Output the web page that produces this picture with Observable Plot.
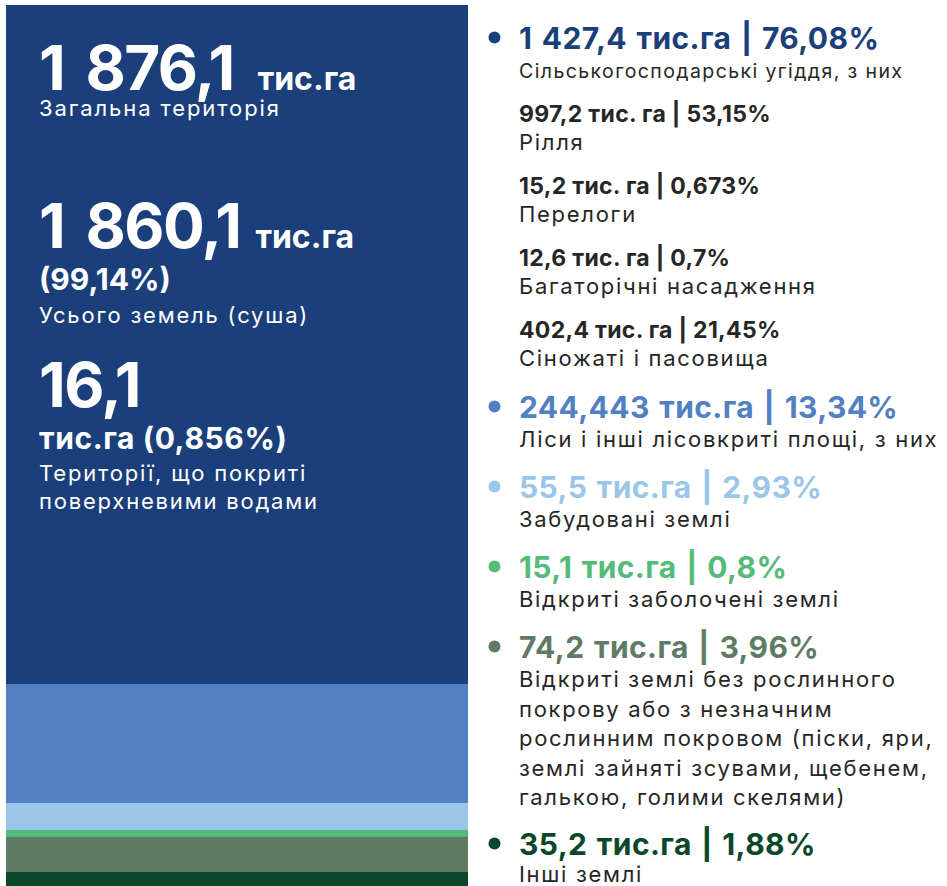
<!DOCTYPE html>
<html><head><meta charset="utf-8">
<script src="https://cdn.jsdelivr.net/npm/d3@7"></script>
<script src="https://cdn.jsdelivr.net/npm/@observablehq/plot@0.6"></script>
<style>
html,body{margin:0;padding:0;background:#fff;}
#wrap{position:relative;width:947px;height:886px;overflow:hidden;}
#wrap > svg{position:absolute;left:0;top:0;}
#overlay{position:absolute;left:0;top:0;pointer-events:none;}
#overlay text{font-family:Inter,"Open Sans",sans-serif;}
</style></head><body><div id="wrap"></div>
<script>
// ---- data ----
const categories = [
  "Сільськогосподарські угіддя, з них",
  "Ліси і інші лісовкриті площі, з них",
  "Забудовані землі",
  "Відкриті заболочені землі",
  "Відкриті землі без рослинного покрову або з незначним рослинним покровом (піски, яри, землі зайняті зсувами, щебенем, галькою, голими скелями)",
  "Інші землі"
];
const areas = [1427.4, 244.443, 55.5, 15.1, 74.2, 35.2];
const shares = [76.08, 13.34, 2.93, 0.8, 3.96, 1.88];
const colors = ["#1b3f7a", "#5180c3", "#9bc6ea", "#55bb7a", "#5e7c64", "#0b482b"];

const agriSubNames = ["Рілля", "Перелоги", "Багаторічні насадження", "Сіножаті і пасовища"];
const agriSubAreas = [997.2, 15.2, 12.6, 402.4];
const agriSubShares = [53.15, 0.673, 0.7, 21.45];

const totalArea = 1876.1;
const landArea = 1860.1, landShare = 99.14;
const waterArea = 16.1, waterShare = 0.856;

// ---- helpers ----
function fmt(v) {
  const [i, d] = String(v).split(".");
  const ig = i.replace(/\B(?=(\d{3})+(?!\d))/g, " ");
  return d ? ig + "," + d : ig;
}

const W = 947, H = 886;
const data = categories.map((c, i) => ({category: c, area: areas[i], share: shares[i]}));

const chart = Plot.plot({
  width: W, height: H,
  marginLeft: 6, marginRight: 479, marginTop: 5, marginBottom: 0,
  x: {axis: null, padding: 0},
  y: {axis: null, domain: [0, 98.66], reverse: true},
  color: {domain: categories, range: colors},
  marks: [
    Plot.barY(data, {x: () => "all", y: "share", fill: "category", order: null, clip: true, shapeRendering: "crispEdges"})
  ]
});
const wrap = document.getElementById("wrap");
wrap.appendChild(chart);

// ---- overlay texts ----
const svg = d3.select(wrap).append("svg").attr("id", "overlay").attr("width", W).attr("height", H);
function t(x, y, s, size, weight, fill, ls, ws) {
  const el = svg.append("text").attr("x", x).attr("y", y).text(s)
    .attr("font-size", size).attr("font-weight", weight).attr("fill", fill)
    .attr("letter-spacing", ls || 0).attr("word-spacing", ws || 0);
  // keep inside the page
  const maxW = W - x - 6;
  const node = el.node();
  if (node.getComputedTextLength && node.getComputedTextLength() > maxW) {
    el.attr("textLength", maxW).attr("lengthAdjust", "spacingAndGlyphs");
  }
  return el;
}
const WHITE = "#ffffff";
const BIG = 62, BIGLS = -1.5, BIGWS = 8;
// left panel
const g1 = svg.append("text").attr("x", 39).attr("y", 90).attr("fill", WHITE).attr("font-weight", 700);
g1.append("tspan").attr("font-size", BIG).attr("letter-spacing", BIGLS).attr("word-spacing", BIGWS).text(fmt(totalArea));
g1.append("tspan").attr("font-size", 32).attr("dx", 24).attr("letter-spacing", 0).text("тис.га");
t(39, 116, "Загальна територія", 22, 400, WHITE, 1.9);

const g2 = svg.append("text").attr("x", 39).attr("y", 248).attr("fill", WHITE).attr("font-weight", 700);
g2.append("tspan").attr("font-size", BIG).attr("letter-spacing", BIGLS).attr("word-spacing", BIGWS).text(fmt(landArea));
g2.append("tspan").attr("font-size", 32).attr("dx", 15).attr("letter-spacing", 0).text("тис.га");
t(39, 290, "(" + fmt(landShare) + "%)", 30, 700, WHITE, 0);
t(39, 323, "Усього земель (суша)", 22, 400, WHITE, 1.8);

t(39, 407, fmt(waterArea), BIG, 700, WHITE, BIGLS);
t(39, 449, "тис.га (" + fmt(waterShare) + "%)", 30, 700, WHITE, 0.6);
t(39, 481, "Території, що покриті", 22, 400, WHITE, 1.8);
t(39, 509, "поверхневими водами", 22, 400, WHITE, 1.8);

// right list
const headBase = [49, 418, 498, 578, 658, 855];
const descLines = [
  ["Сільськогосподарські угіддя, з них"],
  ["Ліси і інші лісовкриті площі, з них"],
  ["Забудовані землі"],
  ["Відкриті заболочені землі"],
  ["Відкриті землі без рослинного", "покрову або з незначним", "рослинним покровом (піски, яри,", "землі зайняті зсувами, щебенем,", "галькою, голими скелями)"],
  ["Інші землі"]
];
const TEXT = "#262626";
data.forEach((d, i) => {
  const yb = headBase[i];
  svg.append("circle").attr("cx", 494.5).attr("cy", yb - 11.5).attr("r", 6).attr("fill", colors[i]);
  t(519, yb, fmt(d.area) + " тис.га | " + fmt(d.share) + "%", 30, 700, colors[i], 0.4, 2);
  descLines[i].forEach((line, k) => {
    if (i === 0) t(519, yb + 29, line, 19.5, 400, TEXT, 1.4);
    else t(519, yb + (i === 5 ? 27 : 29) + k * 29.6, line, 22, 400, TEXT, 1.7);
  });
});
agriSubNames.forEach((n, k) => {
  const yb = 122 + k * 72;
  t(519, yb, fmt(agriSubAreas[k]) + " тис. га | " + fmt(agriSubShares[k]) + "%", 23, 700, TEXT, 0.3);
  t(519, yb + 28, n, 22, 400, TEXT, 1.7);
});
</script></body></html>
